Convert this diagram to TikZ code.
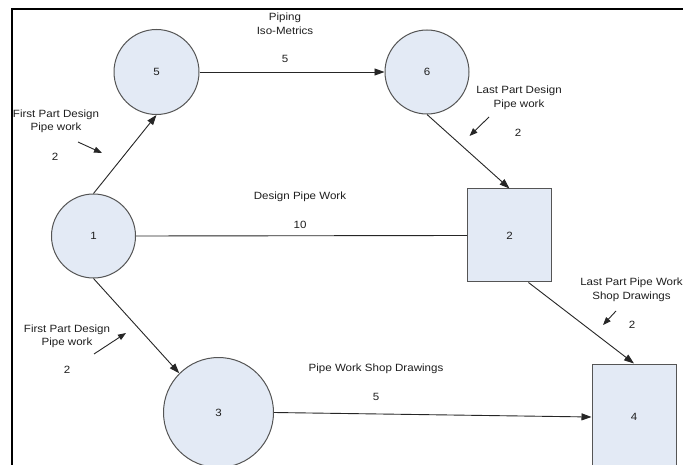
\documentclass[tikz,border=0pt]{standalone}
\usepackage{fontspec}
\setmainfont{Liberation Sans}[FakeStretch=1.1]
\usetikzlibrary{arrows.meta}
\definecolor{nodefill}{RGB}{227,234,245}
\definecolor{nodeline}{RGB}{85,85,85}
\definecolor{txt}{RGB}{30,30,30}
\begin{document}
\begin{tikzpicture}[x=1pt,y=-1pt,
  lbl/.style={font=\fontsize{10.5}{13.5}\selectfont,text=txt,align=center,inner sep=0pt},
  event/.style={circle,draw=nodeline,fill=nodefill,line width=1pt,inner sep=0pt,
    text=txt,font=\fontsize{10.5}{13}\selectfont},
  milestone/.style={rectangle,draw=nodeline,fill=nodefill,line width=1pt,inner sep=0pt,
    text=txt,font=\fontsize{10.5}{13}\selectfont},
  link/.style={draw=black!85,line width=0.9pt},
  flow/.style={link,-{Triangle[length=10pt,width=7pt]}},
  hint/.style={draw=black!85,line width=0.9pt,-{Triangle[length=8pt,width=6pt]}}
]
\clip (0,0) rectangle (683,465);
\useasboundingbox (0,0) rectangle (683,465);
\fill[white] (0,0) rectangle (683,465);

% frame
\draw[line width=2pt] (12,470) -- (12,9) -- (690,9);

% activity nodes
\node[event,minimum size=85pt] (n5) at (156.5,72) {5};
\node[event,minimum size=84pt] (n6) at (427,72) {6};
\node[event,minimum size=84pt] (n1) at (93.5,236) {1};
\node[event,minimum size=110pt] (n3) at (218.5,412.5) {3};
\node[milestone,minimum width=84pt,minimum height=93pt] (n2) at (509.5,235.5) {2};
\node[milestone,minimum width=84pt,minimum height=106pt] (n4) at (634,417) {4};

% connectors
\draw[flow] (n1.north) -- (n5.south);
\draw[flow] (n5.east) -- (n6.west);
\draw[flow] (n6.south) -- (n2.north);
\draw[link] (n1.east) -- (n2.west);
\draw[flow] (n1.south) -- (n3.135);
\draw[flow] (n2.292) -- (n4.north);
\draw[flow] (n3.east) -- (n4.west);

% activity labels
\node[lbl] (tPiping) at (285,24) {Piping\\Iso-Metrics};
\node[lbl] (dPiping) at (285,59) {5};
\node[lbl] (tDesign) at (300,197) {Design Pipe Work};
\node[lbl] (dDesign) at (300,225) {10};
\node[lbl] (tShop) at (376,369) {Pipe Work Shop Drawings};
\node[lbl] (dShop) at (376,397) {5};

\node[lbl] (tFirstA) at (56,121.5) {First Part Design\\Pipe work};
\node[lbl] (dFirstA) at (55,157) {2};
\coordinate (hA1) at (78,142);
\coordinate (hA2) at (102,153);
\draw[hint] (hA1) -- (hA2);

\node[lbl] (tFirstB) at (67,336.5) {First Part Design\\Pipe work};
\node[lbl] (dFirstB) at (67,370) {2};
\coordinate (hB1) at (94,354);
\coordinate (hB2) at (126,333);
\draw[hint] (hB1) -- (hB2);

\node[lbl] (tLastA) at (519,98) {Last Part Design\\Pipe work};
\node[lbl] (dLastA) at (518,133) {2};
\coordinate (hC1) at (489,117);
\coordinate (hC2) at (469.5,136);
\draw[hint] (hC1) -- (hC2);

\node[lbl] (tLastB) at (631.5,290) {Last Part Pipe Work\\Shop Drawings};
\node[lbl] (dLastB) at (632,325) {2};
\coordinate (hD1) at (616,311);
\coordinate (hD2) at (603,325);
\draw[hint] (hD1) -- (hD2);
\end{tikzpicture}
\end{document}
